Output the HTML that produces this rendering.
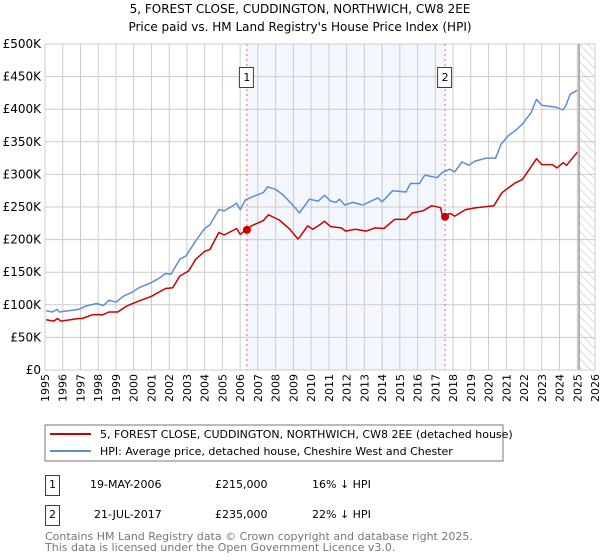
<!DOCTYPE html>
<html><head><meta charset="utf-8"><style>
body{margin:0;background:#fff;}
svg{display:block;font-family:"DejaVu Sans","Liberation Sans",sans-serif;}
</style></head><body>
<svg id="chart" width="600" height="560" viewBox="0 0 600 560">
<defs><pattern id="hatch" width="6" height="6" patternUnits="userSpaceOnUse" patternTransform="rotate(-45)"><line x1="0" y1="0" x2="0" y2="6" stroke="#bbb" stroke-width="1"/></pattern></defs>
<text x="300" y="13" text-anchor="middle" font-size="12">5, FOREST CLOSE, CUDDINGTON, NORTHWICH, CW8 2EE</text>
<text x="300" y="31" text-anchor="middle" font-size="12">Price paid vs. HM Land Registry's House Price Index (HPI)</text>
<g id="plot"></g>
<rect x="45" y="425" width="458" height="36" fill="#fff" stroke="#777"/>
<line x1="50" y1="434" x2="91" y2="434" stroke="#cc0000" stroke-width="2"/>
<text x="100" y="438" font-size="11">5, FOREST CLOSE, CUDDINGTON, NORTHWICH, CW8 2EE (detached house)</text>
<line x1="50" y1="451" x2="91" y2="451" stroke="#5b8fd4" stroke-width="2"/>
<text x="100" y="455" font-size="11">HPI: Average price, detached house, Cheshire West and Chester</text>
<g>
<rect x="45.5" y="475.5" width="14" height="20" fill="#fff" stroke="#cc0000"/>
<text x="52.5" y="488" text-anchor="middle" font-size="11">1</text>
<text x="90" y="488" font-size="11">19-MAY-2006</text>
<text x="215" y="488" font-size="11">£215,000</text>
<text x="312" y="488" font-size="11">16% ↓ HPI</text></g>
<g>
<rect x="45.5" y="505.5" width="14" height="20" fill="#fff" stroke="#cc0000"/>
<text x="52.5" y="518" text-anchor="middle" font-size="11">2</text>
<text x="94" y="518" font-size="11">21-JUL-2017</text>
<text x="215" y="518" font-size="11">£235,000</text>
<text x="312" y="518" font-size="11">22% ↓ HPI</text></g>
<text x="45" y="540" font-size="11" fill="#777">Contains HM Land Registry data © Crown copyright and database right 2025.</text>
<text x="45" y="551" font-size="11" fill="#777">This data is licensed under the Open Government Licence v3.0.</text>
</svg>
<script>
const hpiYears=[1995.06,1995.4,1995.7,1995.8,1996.9,1997.3,1997.9,1998.3,1998.6,1999.0,1999.4,1999.9,2000.3,2000.9,2001.4,2001.8,2002.1,2002.6,2002.95,2003.3,2003.7,2004.0,2004.3,2004.8,2005.1,2005.6,2005.8,2006.0,2006.3,2006.9,2007.3,2007.55,2008.0,2008.4,2009.0,2009.34,2009.9,2010.4,2010.75,2011.1,2011.4,2011.6,2011.9,2012.35,2012.9,2013.3,2013.75,2014.0,2014.6,2015.35,2015.6,2016.1,2016.4,2017.1,2017.4,2017.8,2018.1,2018.5,2018.9,2019.2,2019.85,2020.4,2020.7,2021.1,2021.5,2021.9,2022.4,2022.7,2023.0,2023.8,2024.2,2024.35,2024.6,2025.0];
const hpiValues=[91,89,93,89,93,98,102,99,107,104,113,119,126,133,140,148,147,170,175,190,206,217,223,246,244,252,256,246,261,268,272,281,277,269,252,241,262,259,268,259,257,262,253,257,253,258,264,258,275,273,286,286,299,295,303,308,304,319,314,320,325,325,346,359,367,377,395,415,406,403,399,405,423,429];
const propYears=[1995.06,1995.5,1995.7,1995.9,1996.9,1997.1,1997.7,1998.1,1998.2,1998.6,1999.1,1999.6,2000.3,2001.0,2001.4,2001.8,2002.2,2002.6,2003.1,2003.5,2004.0,2004.3,2004.8,2005.1,2005.8,2006.0,2006.35,2006.7,2007.3,2007.6,2008.2,2008.8,2009.25,2009.34,2009.8,2010.1,2010.5,2010.75,2011.1,2011.7,2011.95,2012.5,2013.1,2013.6,2014.1,2014.7,2015.35,2015.7,2016.3,2016.8,2017.3,2017.4,2017.85,2018.1,2018.7,2019.3,2020.3,2020.75,2021.5,2021.9,2022.7,2023.0,2023.6,2023.85,2024.2,2024.4,2025.0];
const propValues=[77,75,79,75,79,79,85,85,84,89,89,98,106,113,119,125,126,144,152,170,182,185,211,207,217,208,216,222,229,238,230,216,201,203,221,216,223,228,220,218,213,216,213,218,217,231,231,241,244,252,249,236,240,236,246,249,252,272,287,292,324,315,315,310,318,314,334];
const saleYears=[2006.38,2017.55];
const salePrices=[215,235];
const saleLabels=["1","2"];
const yTicks=[0,50,100,150,200,250,300,350,400,450,500];
const yTickLabels=["£0","£50K","£100K","£150K","£200K","£250K","£300K","£350K","£400K","£450K","£500K"];
const xTicks=[1995,1996,1997,1998,1999,2000,2001,2002,2003,2004,2005,2006,2007,2008,2009,2010,2011,2012,2013,2014,2015,2016,2017,2018,2019,2020,2021,2022,2023,2024,2025,2026];
const X0=45,X1=595,Y0=370,Y1=44,YMIN=1995,YMAX=2026,VMAX=500,DATA_END=2025.1;
const xs=y=>X0+(y-YMIN)/(YMAX-YMIN)*(X1-X0);
const ys=v=>Y0-v/VMAX*(Y0-Y1);
const NS="http://www.w3.org/2000/svg";
const g=document.getElementById('plot');
function mk(t,a,p){const e=document.createElementNS(NS,t);for(const k in a)e.setAttribute(k,a[k]);(p||g).appendChild(e);return e;}
let r=mk('rect',{x:xs(saleYears[0]),y:Y1,width:xs(saleYears[1])-xs(saleYears[0]),height:Y0-Y1,fill:'#f3f6fd'});


let h=mk('rect',{x:xs(DATA_END),y:Y1,width:X1-xs(DATA_END),height:Y0-Y1,fill:'url(#hatch)'});


xTicks.forEach(t=>{
 const l=mk('line',{x1:xs(t),x2:xs(t),y1:Y1,y2:Y0,stroke:'#ccc','stroke-width':1});
 
 
 const tx=mk('text',{x:0,y:0,'font-size':11,'text-anchor':'end',transform:`translate(${xs(t)+4},${Y0+4}) rotate(-90)`});
 tx.textContent=t;
 
 
});
yTicks.forEach((t,i)=>{
 const l=mk('line',{x1:X0,x2:X1,y1:ys(t),y2:ys(t),stroke:'#ccc','stroke-width':1});
 
 
 const tx=mk('text',{x:X0-4,y:ys(t)+4,'font-size':12,'text-anchor':'end'});
 tx.textContent=yTickLabels[i];
 
 
});
let dl=mk('line',{x1:xs(DATA_END),x2:xs(DATA_END),y1:Y1,y2:Y0,stroke:'#999','stroke-width':1.5});


saleYears.forEach((y,i)=>{
 const l=mk('line',{x1:xs(y),x2:xs(y),y1:Y1,y2:Y0,stroke:'#e66','stroke-width':1,'stroke-dasharray':'2,3'});
 
 
});
function path(xa,va,c,name){
 const d=xa.map((x,i)=>(i?'L':'M')+xs(x).toFixed(1)+','+ys(va[i]).toFixed(1)).join('');
 const p=mk('path',{d:d,fill:'none',stroke:c,'stroke-width':1.5,'stroke-linejoin':'round'});
 
 
}
path(hpiYears,hpiValues,'#5b8fd4','hpi-line');
path(propYears,propValues,'#cc0000','property-price-line');
saleYears.forEach((y,i)=>{
 const c=mk('circle',{cx:xs(y),cy:ys(salePrices[i]),r:4,fill:'#cc0000'});
 
 
 const b=mk('rect',{x:xs(y)-7.5,y:67.5,width:14,height:20,fill:'#fff',stroke:'#cc0000'});
 
 
 const t=mk('text',{x:xs(y),y:81,'font-size':11,'text-anchor':'middle'});
 t.textContent=saleLabels[i];
 
 
});
let fr=mk('rect',{x:X0,y:Y1,width:X1-X0,height:Y0-Y1,fill:'none',stroke:'#ccc'});


</script>
</body></html>
